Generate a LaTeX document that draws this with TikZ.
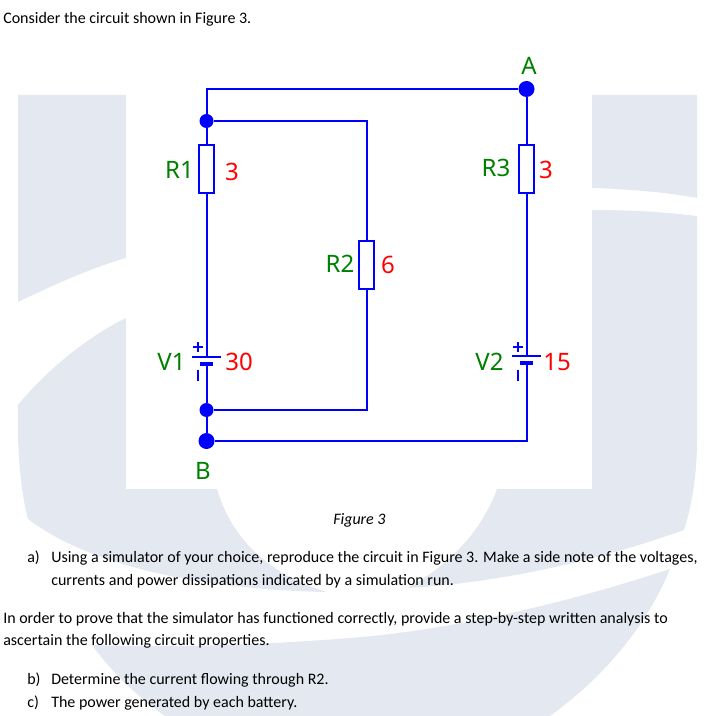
\documentclass[tikz,border=0pt]{standalone}
\usepackage{fontspec}
\setmainfont{Carlito}
\newfontfamily\schfont{Noto Sans}
\definecolor{wmgrey}{HTML}{E4E9F1}
\definecolor{lblgreen}{HTML}{008000}
\tikzset{
	wire/.style={draw=blue, line width=1.5pt},
	dot/.style={circle, fill=blue, inner sep=0pt, minimum size=10.5pt},
	bigdot/.style={circle, fill=blue, inner sep=0pt, minimum size=12pt},
	res/.style={rectangle, draw=blue, line width=1.5pt, inner sep=0pt, minimum width=11.5pt, minimum height=35.5pt},
	longplate/.style={rectangle, fill=blue, inner sep=0pt, minimum width=22pt, minimum height=1.5pt},
	shortplate/.style={rectangle, fill=blue, inner sep=0pt, minimum width=10pt, minimum height=3pt},
	partname/.style={text=lblgreen, font=\schfont\fontsize{18}{21}\selectfont, inner sep=0pt},
	partval/.style={text=red, font=\schfont\fontsize{18}{21}\selectfont, inner sep=0pt},
	txt/.style={anchor=base west, inner sep=0pt, font=\fontsize{12}{14}\selectfont}
}

\begin{document}
\begin{tikzpicture}[x=0.75pt, y=-0.75pt]
	\useasboundingbox (0,0) rectangle (706,716);

	% Watermark behind the page
	\fill[wmgrey] (18,95) -- (126,95) -- (126,258) .. controls (85,270) and (50,287) .. (18,302) -- cycle;
	\fill[wmgrey] (126,318) .. controls (85,338) and (45,372) .. (18,405) .. controls (17,445) and (20,490) .. (28,519) .. controls (95,570) and (215,590) .. (327,592) .. controls (270,575) and (232,540) .. (217,489) -- (126,489) -- cycle;
	\fill[wmgrey] (592,95) -- (697,95) -- (697,198) .. controls (665,192) and (625,189) .. (592,188) -- cycle;
	\fill[wmgrey] (592,210) .. controls (630,210) and (665,212) .. (697,216) -- (697,440) .. controls (697,475) and (692,505) .. (684,530) .. controls (600,560) and (500,583) .. (407,588) .. controls (450,565) and (482,530) .. (497,489) -- (592,489) -- cycle;
	\fill[wmgrey] (670,569) .. controls (560,605) and (450,630) .. (350,638) .. controls (260,645) and (170,648) .. (92,645) .. controls (110,670) and (135,695) .. (165,716) -- (550,716) .. controls (600,680) and (645,630) .. (670,569) -- cycle;

	% Page text
	\node[txt] (intro) at (3,24) {Consider the circuit shown in Figure 3.};
	\node[txt, font=\fontsize{12}{14}\selectfont\itshape] (caption) at (333,524) {Figure 3};
	\node[txt] (amark) at (27,562) {a)};
	\node[txt] (aone) at (51,562) {Using a simulator of your choice, reproduce the circuit in Figure 3. Make a side note of the voltages,};
	\node[txt] (atwo) at (51,585) {currents and power dissipations indicated by a simulation run.};
	\node[txt] (proofone) at (3,623) {In order to prove that the simulator has functioned correctly, provide a step-by-step written analysis to};
	\node[txt] (prooftwo) at (3,645) {ascertain the following circuit properties.};
	\node[txt] (bmark) at (27,684) {b)};
	\node[txt] (bline) at (51,684) {Determine the current flowing through R2.};
	\node[txt] (cmark) at (27,707) {c)};
	\node[txt] (cline) at (51,707) {The power generated by each battery.};

	% Junction dots
	\node[bigdot] (A) at (526.5,89) {};
	\node[dot] (J1) at (206.5,121) {};
	\node[dot] (J2) at (206.5,410) {};
	\node[bigdot] (B) at (206.5,441) {};

	% Resistors
	\node[res] (R1) at (206.5,169) {};
	\node[res] (R2) at (366.5,265) {};
	\node[res] (R3) at (526.5,169) {};

	% Battery plates
	\node[longplate] (V1long) at (206.5,357) {};
	\node[shortplate] (V1short) at (206.5,364) {};
	\node[longplate] (V2long) at (526.5,356) {};
	\node[shortplate] (V2short) at (526.5,363) {};

	% Polarity marks
	\coordinate (V1plus) at (198,347);
	\coordinate (V1minus) at (198,375);
	\coordinate (V2plus) at (518,347);
	\coordinate (V2minus) at (518,375);
	\draw[wire] (V1plus) +(-5,0) -- +(5,0) (V1plus) +(0,-5) -- +(0,5);
	\draw[wire] (V2plus) +(-5,0) -- +(5,0) (V2plus) +(0,-5) -- +(0,5);
	\draw[wire] (V1minus) +(0,-5.5) -- +(0,5.5);
	\draw[wire] (V2minus) +(0,-5.5) -- +(0,5.5);

	% Wires
	\draw[wire] (J1) |- (A);
	\draw[wire] (J1) -| (R2);
	\draw[wire] (J1) -- (R1);
	\draw[wire] (R1) -- (V1long);
	\draw[wire] (V1short) -- (J2);
	\draw[wire] (J2) -- (B);
	\draw[wire] (R2) |- (J2);
	\draw[wire] (A) -- (R3);
	\draw[wire] (R3) -- (V2long);
	\draw[wire] (V2short) |- (B);

	% Labels
	\node[partname] (Alabel) at (529,66) {A};
	\node[partname] (Blabel) at (203,471) {B};
	\node[partname] (R1label) at (179.5,170) {R1};
	\node[partval] (R1value) at (232,172) {3};
	\node[partname] (R2label) at (340,264) {R2};
	\node[partval] (R2value) at (388,265) {6};
	\node[partname] (R3label) at (496,168) {R3};
	\node[partval] (R3value) at (546,170) {3};
	\node[partname] (V1label) at (171.5,362) {V1};
	\node[partval] (V1value) at (239,362) {30};
	\node[partname] (V2label) at (489.5,362) {V2};
	\node[partval] (V2value) at (557,362) {15};
\end{tikzpicture}
\end{document}
